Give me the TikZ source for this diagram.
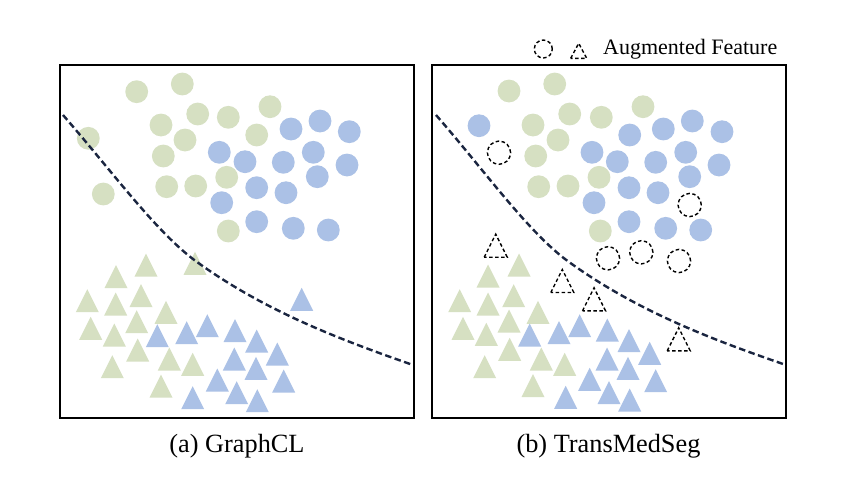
\documentclass[tikz,border=0pt]{standalone}
\usepackage{fontspec}
\setmainfont{Liberation Serif}
\definecolor{cgreen}{HTML}{D6E0C2}
\definecolor{cblue}{HTML}{ABC1E6}
\definecolor{cnavy}{HTML}{1A2540}
\tikzset{
  panelbox/.style={draw=black, line width=2pt},
  gfill/.style={fill=cgreen},
  bfill/.style={fill=cblue},
  augm/.style={draw=black, line width=1.4pt, dash pattern=on 3.5pt off 2.5pt},
  boundary/.style={draw=cnavy, line width=2.4pt, dash pattern=on 6.5pt off 3.5pt},
  captxt/.style={anchor=base, inner sep=0pt, font=\fontsize{26.3}{30}\selectfont},
  legtxt/.style={anchor=base west, inner sep=0pt, font=\fontsize{22}{26}\selectfont}
}
\begin{document}
\begin{tikzpicture}[x=1pt,y=-1pt]
\useasboundingbox (0,0) rectangle (845,488);
\fill[white] (0,0) rectangle (845,488);
% ---------- Panel (a) ----------
\foreach \x/\y in {136.7/91.7,182.3/84,88.3/138.3,197.7/114,228.3/117.3,270/106.7,161/125,185/140,256.7/135,163.3/156,103.3/194,166.7/186.7,195.7/186,226.7/177.3,228.3/231}
  \fill[gfill] (\x,\y) circle[radius=11.4pt];
\foreach \x/\y in {291/129,320/121,349.3/131.7,219.3/152.3,245/161.7,283.3/162.3,313.3/152.3,347/165,317.3/176.7,256.7/187.7,286/192.7,221.7/202.7,256.7/221.7,293.3/228.3,328.3/230}
  \fill[bfill] (\x,\y) circle[radius=11.4pt];
\foreach \x/\y in {146/265,116/276.7,195/263.3,87.3/300.7,115.7/304,141/295.7,90.7/328.3,136.7/321.7,114.3/335,166/312.3,137.7/350,169.3/359,192.7/364.3,112.3/366.7,161/386}
  \fill[gfill] (\x,\y) ++(-11.5,11.5) -- ++(11.5,-23) -- ++(11.5,23) -- cycle;
\foreach \x/\y in {301.7/299.3,157.3/335.7,186.7/332.7,207.3/325.7,235/330.7,256.7/341,277.3/354,234.3/359,256/368.3,217.3/380,236.7/392.7,283.7/381,192.7/397.7,257.3/400.7}
  \fill[bfill] (\x,\y) ++(-11.5,11.5) -- ++(11.5,-23) -- ++(11.5,23) -- cycle;
\coordinate (a0) at (63,115);
\coordinate (a1) at (197,262);
\coordinate (a2) at (413,365);
\draw[boundary] (a0) .. controls (113,172.5) and (157,233.2) .. (a1)
                      .. controls (267,312.4) and (343,340.5) .. (a2);
\draw[panelbox] (60,65) rectangle (414,418);
\node[captxt] (capa) at (237,452) {(a) GraphCL};
% ---------- Panel (b) ----------
\foreach \x/\y in {509/91,554.7/84,569.7/114,601.3/117.3,643/106.7,533/125,558/140,535.7/156,538.7/186.7,568/186,599/177.3,600.3/231}
  \fill[gfill] (\x,\y) circle[radius=11.4pt];
\foreach \x/\y in {479/125.7,629.7/135,663.3/129,692.3/121,722/131.7,592/152.3,617.3/161.7,655.7/162.3,685.7/152.3,719/165,689.7/176.7,629/187.7,658/192.7,594/202.7,629/221.7,665.7/228.3,700.7/230}
  \fill[bfill] (\x,\y) circle[radius=11.4pt];
\foreach \x/\y in {499/152.7,689.7/205,608/258.3,641.3/252.3,679/261}
  \draw[augm] (\x,\y) circle[radius=11.6pt];
\foreach \x/\y in {519/265,488/276,459.7/300.7,488/304,513.7/295.7,463/328.3,509/321,486.3/334.3,538/312.3,509.7/349.3,541.3/359,564.7/364.3,484.7/366.7,533/385.7}
  \fill[gfill] (\x,\y) ++(-11.5,11.5) -- ++(11.5,-23) -- ++(11.5,23) -- cycle;
\foreach \x/\y in {529.7/335,559/332.7,579.7/325.7,607.3/330,629/340.7,649.7/353.3,607/359,628/368.3,589.7/379.3,609/392.7,655.7/380.7,565.7/397.3,629.7/400}
  \fill[bfill] (\x,\y) ++(-11.5,11.5) -- ++(11.5,-23) -- ++(11.5,23) -- cycle;
\foreach \x/\y in {495.7/245.7,562.3/281,594/299.3,678.7/339.3}
  \draw[augm] (\x,\y) ++(-11.5,11.5) -- ++(11.5,-23) -- ++(11.5,23) -- cycle;
\coordinate (b0) at (436,115);
\coordinate (b1) at (569,262);
\coordinate (b2) at (786,365);
\draw[boundary] (b0) .. controls (486,172.5) and (529,233.2) .. (b1)
                      .. controls (639,312.4) and (715,340.5) .. (b2);
\draw[panelbox] (432,65) rectangle (786,418);
\node[captxt] (capb) at (608.5,452) {(b) TransMedSeg};
% ---------- Legend ----------
\draw[augm] (543.3,49) circle[radius=9pt];
\draw[augm] (578.7,50.8) ++(-8,7.5) -- ++(8,-15) -- ++(8,15) -- cycle;
\node[legtxt] (leg) at (603,54.3) {Augmented Feature};
\end{tikzpicture}
\end{document}
